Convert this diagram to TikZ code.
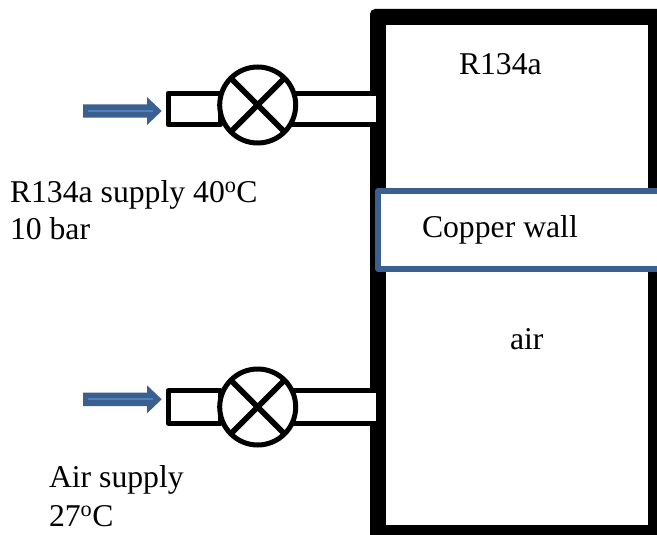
\documentclass[tikz,border=0pt]{standalone}
\usepackage{fontspec}
\setmainfont{Liberation Serif}
\definecolor{bluedark}{HTML}{3B6090}
\definecolor{bluelight}{HTML}{4F81BD}
\newcommand{\sz}{\fontsize{31.7}{36}\selectfont}
\tikzset{
  lbl/.style={anchor=base west,inner sep=0pt,outer sep=0pt,font=\sz,text=black},
  pipebox/.style={rectangle,fill=white,minimum height=#1,inner sep=0pt,outer sep=0pt},
  stub/.style={line width=5pt,line join=round,draw=black},
  pipeline/.style={line width=5pt,draw=black},
  valve/.style={circle,draw=black,fill=white,line width=5pt,minimum size=76pt,inner sep=0pt,outer sep=0pt},
  crossbar/.style={line width=5.6pt,draw=black},
  copper/.style={line width=5.2pt,draw=bluedark,fill=white,line join=round},
  blockarrow/.style={fill=bluedark},
  arrowcore/.style={line width=2pt,draw=bluelight}
}
\begin{document}
\begin{tikzpicture}[x=1pt,y=-1pt]
\clip (0,0) rectangle (657,535);
\fill[white] (0,0) rectangle (657,535);
% vessel wall
\fill[black,rounded corners=5pt] (370,9) rectangle (664,541);
\fill[white] (386,25) rectangle (648,525);
% copper wall
\draw[copper] (378,191) rectangle (664,269);
% upper valve
\node[pipebox=31.6pt,stub,draw,minimum width=52pt,anchor=west] (stubA) at (168,109) {};
\node[pipebox=31.6pt,minimum width=85pt,anchor=west] (pipeA) at (290.5,109) {};
\draw[pipeline] (pipeA.north west) -- (pipeA.north east);
\draw[pipeline] (pipeA.south west) -- (pipeA.south east);
\node[valve] (valveA) at (257.7,105) {};
\draw[crossbar] (valveA.north west) -- (valveA.south east);
\draw[crossbar] (valveA.north east) -- (valveA.south west);
% lower valve
\node[pipebox=32.2pt,stub,draw,minimum width=52pt,anchor=west] (stubB) at (168,406.9) {};
\node[pipebox=32.2pt,minimum width=85pt,anchor=west] (pipeB) at (290.5,406.9) {};
\draw[pipeline] (pipeB.north west) -- (pipeB.north east);
\draw[pipeline] (pipeB.south west) -- (pipeB.south east);
\node[valve] (valveB) at (257.7,407) {};
\draw[crossbar] (valveB.north west) -- (valveB.south east);
\draw[crossbar] (valveB.north east) -- (valveB.south west);
% inflow arrows
\fill[blockarrow] (83,104.3) -- (147,104.3) -- (147,97) -- (161.7,111) -- (147,125) -- (147,117.7) -- (83,117.7) -- cycle;
\draw[arrowcore] (88,111) -- (153,111);
\fill[blockarrow] (83,392.5) -- (147,392.5) -- (147,385.3) -- (161.7,399.3) -- (147,413.3) -- (147,406) -- (83,406) -- cycle;
\draw[arrowcore] (88,399.3) -- (153,399.3);
% labels
\node[lbl] (tR) at (459,75) {R134a};
\node[lbl] (tC) at (422,237) {Copper wall};
\node[lbl] (tA) at (510,349) {air};
\node[lbl] (tS1) at (10,202) {R134a supply 40\textsuperscript{o}C};
\node[lbl] (tS2) at (10,240) {10 bar};
\node[lbl] (tS3) at (49,487) {Air supply};
\node[lbl] (tS4) at (49,526) {27\textsuperscript{o}C};
\end{tikzpicture}
\end{document}
